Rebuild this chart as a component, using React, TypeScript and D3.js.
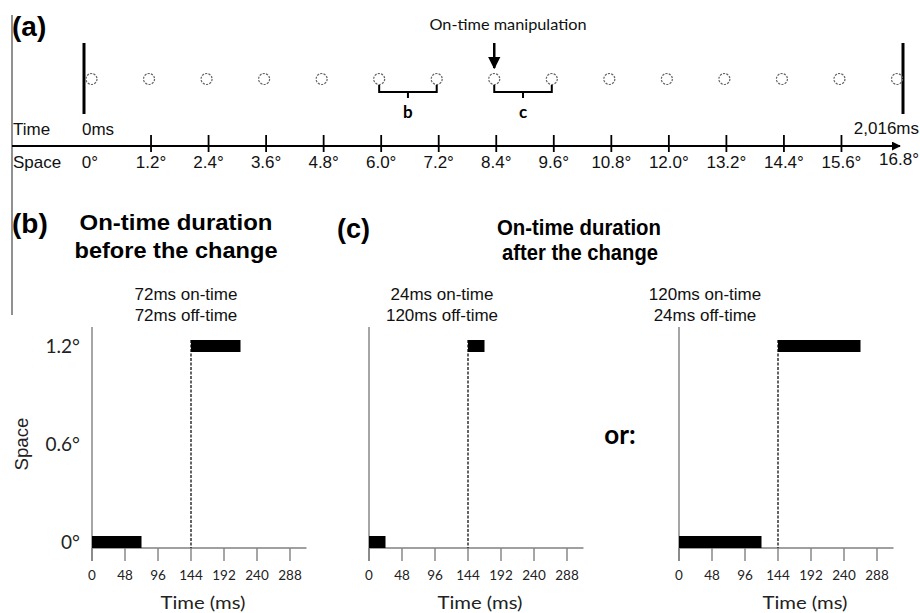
import * as d3 from 'd3';

// positions of the dots along the motion path (deg)
const dotDegrees = [0, 1.2, 2.4, 3.6, 4.8, 6.0, 7.2, 8.4, 9.6, 10.8, 12.0, 13.2, 14.4, 15.6, 16.8];
const axisTickDegrees = [1.2, 2.4, 3.6, 4.8, 6.0, 7.2, 8.4, 9.6, 10.8, 12.0, 13.2, 14.4, 15.6];
const axisLabelDegrees = [0, 1.2, 2.4, 3.6, 4.8, 6.0, 7.2, 8.4, 9.6, 10.8, 12.0, 13.2, 14.4, 15.6, 16.8];
const totalTime = '2,016ms';

// panels b, c (left), c (right)
const onTimeMs = [72, 24, 120];
const offTimeMs = [72, 120, 24];
const flashDegrees = [0, 1.2];
const timeTicks = [0, 48, 96, 144, 192, 240, 288];
const spaceTicks = [0, 0.6, 1.2];
const panelLeft = [92, 369, 679];
const timeLabelX = [203, 480, 805];

const fontArial = '"Liberation Sans", Arial, sans-serif';
const fontCal = 'Lato, "Open Sans", sans-serif';
const grey = '#808080';

const fmtDeg = (d: number) => (d === 0 ? '0°' : d.toFixed(1) + '°');

function Panel({ idx }: { idx: number }) {
  const x0 = panelLeft[idx];
  const x = d3.scaleLinear().domain([0, 312]).range([x0, x0 + 214.5]);
  const y = d3.scaleLinear().domain([0, 1.2]).range([542, 346]);
  const barH = 12;
  const axisY = y(0) + barH / 2;
  const period = onTimeMs[idx] + offTimeMs[idx];
  const flashes = flashDegrees.map((deg, i) => ({ deg, start: i * period, end: i * period + onTimeMs[idx] }));
  return (
    <g>
      <line x1={x0} x2={x0} y1={327} y2={axisY + 13} stroke={grey} strokeWidth={1.4} />
      <line x1={x0} x2={x(312)} y1={axisY} y2={axisY} stroke={grey} strokeWidth={1.4} />
      {timeTicks.map((t) => (
        <g key={t}>
          <line x1={x(t)} x2={x(t)} y1={axisY} y2={axisY + 13} stroke={grey} strokeWidth={1.4} />
          <text x={x(t)} y={580} textAnchor="middle" fontFamily={fontCal} fontSize={13.5} fill="#222">{t}</text>
        </g>
      ))}
      <line x1={x(period)} x2={x(period)} y1={y(1.2) - barH / 2} y2={axisY} stroke="#111" strokeWidth={1.3} strokeDasharray="3,1.5" />
      {flashes.map((f, i) => (
        <rect key={i} x={x(f.start)} y={y(f.deg) - barH / 2} width={x(f.end) - x(f.start)} height={barH} fill="#000" />
      ))}
      <text x={timeLabelX[idx]} y={609} textAnchor="middle" fontFamily={fontCal} fontSize={18} textLength={85} lengthAdjust="spacingAndGlyphs" fill="#222">Time (ms)</text>
      {idx === 0 && spaceTicks.map((s) => (
        <text key={s} x={80} y={y(s) + 7} textAnchor="end" fontFamily={fontCal} fontSize={19} fill="#222">{fmtDeg(s)}</text>
      ))}
      {idx === 0 && (
        <text transform={`translate(28,${y(0.6)}) rotate(-90)`} textAnchor="middle" fontFamily={fontArial} fontSize={19} textLength={53} lengthAdjust="spacingAndGlyphs" fill="#222">Space</text>
      )}
    </g>
  );
}

export default function App() {
  const xs = d3.scaleLinear().domain([0, 16.8]).range([91.5, 897]);
  const axisY = 146;
  const dotY = 79;
  const brace = (a: number, b: number) => {
    const x1 = xs(a), x2 = xs(b), m = (x1 + x2) / 2;
    return `M${x1},85 V92 H${x2} V85 M${m},92 V98`;
  };
  const subtitles = [
    ['72ms on-time', '72ms off-time'],
    ['24ms on-time', '120ms off-time'],
    ['120ms on-time', '24ms off-time'],
  ];
  const subX = [186, 442, 705];
  const lastIdx = axisLabelDegrees.length - 1;
  return (
    <svg width={920} height={613} style={{ position: 'absolute', left: 0, top: 0, background: '#fff' }}>
      <defs>
        <marker id="ah" viewBox="0 0 10 10" refX={9} refY={5} markerWidth={5} markerHeight={5} orient="auto">
          <path d="M0,0 L10,5 L0,10 z" fill="#000" />
        </marker>
      </defs>
      {/* frame line */}
      <line x1={12} x2={12} y1={15} y2={315} stroke="#555" strokeWidth={1.3} />

      {/* (a) timeline */}
      <text x={12} y={36} fontFamily={fontArial} fontWeight="bold" fontSize={28}>(a)</text>
      <text x={508} y={30} textAnchor="middle" fontFamily={fontCal} fontSize={16} textLength={157} lengthAdjust="spacingAndGlyphs" fill="#111">On-time manipulation</text>
      <line x1={xs(8.4)} x2={xs(8.4)} y1={43} y2={68} stroke="#000" strokeWidth={2.5} markerEnd="url(#ah)" />
      <line x1={84} x2={84} y1={43} y2={114} stroke="#000" strokeWidth={3} />
      <line x1={903} x2={903} y1={43} y2={114} stroke="#000" strokeWidth={3} />
      {dotDegrees.map((d) => (
        <circle key={d} cx={xs(d)} cy={dotY} r={5.5} fill="none" stroke="#666" strokeWidth={1.2} strokeDasharray="2.2,1.2" />
      ))}
      <path d={brace(6.0, 7.2)} fill="none" stroke="#000" strokeWidth={2} />
      <path d={brace(8.4, 9.6)} fill="none" stroke="#000" strokeWidth={2} />
      <text x={(xs(6.0) + xs(7.2)) / 2} y={118} textAnchor="middle" fontFamily={fontCal} fontWeight="bold" fontSize={17}>b</text>
      <text x={(xs(8.4) + xs(9.6)) / 2} y={118} textAnchor="middle" fontFamily={fontCal} fontWeight="bold" fontSize={17}>c</text>

      <text x={13} y={135} fontFamily={fontArial} fontSize={17} fill="#111">Time</text>
      <text x={82} y={135} fontFamily={fontArial} fontSize={17} fill="#111">0ms</text>
      <text x={919} y={134} textAnchor="end" fontFamily={fontArial} fontSize={17} fill="#111">{totalTime}</text>
      <line x1={12} x2={900} y1={axisY} y2={axisY} stroke="#000" strokeWidth={1.8} markerEnd="url(#ah)" />
      {axisTickDegrees.map((d) => (
        <line key={d} x1={xs(d) + 2} x2={xs(d) + 2} y1={135} y2={152} stroke="#000" strokeWidth={1.8} />
      ))}
      <text x={13} y={168} fontFamily={fontArial} fontSize={17} fill="#111">Space</text>
      {axisLabelDegrees.map((d, i) => (
        <text key={d} x={i === 0 ? 90 : i === lastIdx ? 899 : xs(d) + 2} y={i === lastIdx ? 165 : 168} textAnchor="middle" fontFamily={fontArial} fontSize={17} fill="#111">{fmtDeg(d)}</text>
      ))}

      {/* (b) and (c) headings */}
      <text x={12} y={233} fontFamily={fontArial} fontWeight="bold" fontSize={28}>(b)</text>
      <text x={176} y={230} textAnchor="middle" fontFamily={fontArial} fontWeight="bold" fontSize={22} textLength={193} lengthAdjust="spacingAndGlyphs">On-time duration</text>
      <text x={176} y={258} textAnchor="middle" fontFamily={fontArial} fontWeight="bold" fontSize={22} textLength={203} lengthAdjust="spacingAndGlyphs">before the change</text>
      <text x={337} y={238} fontFamily={fontArial} fontWeight="bold" fontSize={28} textLength={33} lengthAdjust="spacingAndGlyphs">(c)</text>
      <text x={579} y={235} textAnchor="middle" fontFamily={fontArial} fontWeight="bold" fontSize={22} textLength={164} lengthAdjust="spacingAndGlyphs">On-time duration</text>
      <text x={580} y={260} textAnchor="middle" fontFamily={fontArial} fontWeight="bold" fontSize={22} textLength={156} lengthAdjust="spacingAndGlyphs">after the change</text>

      {subtitles.map((s, i) => (
        <g key={i}>
          <text x={subX[i]} y={300} textAnchor="middle" fontFamily={fontArial} fontSize={17} fill="#111">{s[0]}</text>
          <text x={subX[i]} y={321} textAnchor="middle" fontFamily={fontArial} fontSize={17} fill="#111">{s[1]}</text>
        </g>
      ))}

      {[0, 1, 2].map((i) => <Panel key={i} idx={i} />)}

      <text x={620} y={444} textAnchor="middle" fontFamily={fontCal} fontWeight="bold" fontSize={26}>or:</text>
    </svg>
  );
}
